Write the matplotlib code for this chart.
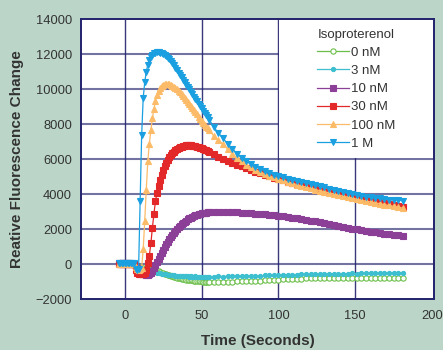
import numpy as np
import matplotlib
matplotlib.use("Agg")
import matplotlib.pyplot as plt
from matplotlib.patches import Rectangle

plt.rcParams['font.family'] = ['Liberation Sans', 'DejaVu Sans']

# Time points: 1 s reads up to 55 s, then 3 s reads
t_fast = np.arange(-4, 56)
t_slow = np.arange(58, 182, 3)
time = np.concatenate([t_fast, t_slow])

labels = ["0 nM", "3 nM", "10 nM", "30 nM", "100 nM", "1 M"]

# Readings (fluorescence change), fast part then slow part
nm0_fast = [20, 40, 30, 50, 30, 40, 30, 50, 40, 30, 20,
            -50, -100, -130,
            -160, -190, -220, -250, -270, -290, -310, -330, -340, -350,
            -360, -380, -410, -440, -470, -500, -530, -560, -590, -620,
            -650, -680, -700, -730, -760, -780, -800, -820, -840, -860,
            -870, -890, -900, -910, -920, -930, -940, -950, -960, -970,
            -980, -985, -990, -990, -995, -1000]
nm0_slow = [-1000, -990, -1000, -990, -990, -980, -980, -970, -960, -950,
            -940, -920, -910, -890, -870, -860, -850, -840, -830, -820,
            -810, -810, -800, -800, -800, -790, -790, -790, -790, -780,
            -780, -780, -780, -770, -770, -770, -770, -760, -760, -760,
            -760, -760]

nm3_fast = [30, 50, 30, 40, 50, 30, 40, 50, 30, 40, 30,
            -80, -150, -200,
            -250, -280, -300, -320, -340, -360, -380, -400, -420, -440,
            -460, -480, -500, -520, -540, -560, -570, -580, -600, -610,
            -620, -630, -640, -650, -650, -660, -670, -670, -680, -680,
            -690, -690, -700, -690, -700, -700, -690, -700, -710, -700,
            -700, -710, -700, -700, -710, -700]
nm3_slow = [-700, -690, -700, -680, -690, -670, -680, -660, -670, -650,
            -660, -640, -630, -620, -630, -600, -610, -590, -600, -580,
            -570, -580, -560, -570, -550, -560, -540, -550, -530, -540,
            -520, -530, -510, -520, -500, -510, -490, -500, -480, -490,
            -480, -490]

nm10_fast = [50, 30, 50, 40, 50, 30, 40, 50, 30, 40, 20,
             -100, -200, -250,
             -300, -350, -450, -550, -600, -600, -580, -500, -380, -230,
             -60, 120, 300, 480, 660, 830, 990, 1140, 1290, 1430,
             1560, 1680, 1800, 1910, 2010, 2110, 2200, 2280, 2360, 2430,
             2500, 2560, 2620, 2670, 2720, 2760, 2800, 2830, 2860, 2890,
             2910, 2930, 2940, 2950, 2960, 2970]
nm10_slow = [2980, 2990, 2990, 2990, 2980, 2970, 2950, 2930, 2910, 2890,
             2870, 2850, 2830, 2810, 2780, 2750, 2710, 2670, 2630, 2590,
             2550, 2500, 2450, 2400, 2350, 2290, 2230, 2170, 2120, 2070,
             2030, 1990, 1950, 1910, 1870, 1830, 1790, 1750, 1720, 1690,
             1660, 1640]

nm30_fast = [40, 20, 50, 30, 40, 20, 50, 30, 40, 20, 0,
             -300, -500, -550,
             -550, -580, -560, -520, -300, 100, 500, 1200, 2100, 2900,
             3600, 4100, 4450, 4800, 5100, 5380, 5600, 5800, 5970, 6110,
             6240, 6350, 6440, 6520, 6590, 6640, 6690, 6720, 6750, 6770,
             6790, 6800, 6800, 6790, 6780, 6760, 6740, 6710, 6680, 6650,
             6620, 6590, 6550, 6510, 6470, 6430]
nm30_slow = [6300, 6150, 6020, 5900, 5790, 5690, 5590, 5490, 5390, 5290,
             5200, 5110, 5020, 4940, 4860, 4790, 4730, 4670, 4610, 4560,
             4500, 4450, 4390, 4330, 4270, 4210, 4150, 4090, 4020, 3960,
             3900, 3840, 3780, 3730, 3680, 3630, 3580, 3520, 3460, 3400,
             3340, 3280]

nm100_fast = [30, 50, 40, 50, 30, 50, 40, 50, 30, 40, 20,
              -150, -250, -300,
              -280, -200, 850, 2500, 4250, 5900, 6900, 7660, 8350, 8900,
              9330, 9650, 9900, 10060, 10170, 10240, 10290, 10310, 10320, 10300,
              10260, 10210, 10150, 10080, 10000, 9910, 9820, 9720, 9620, 9510,
              9400, 9280, 9160, 9040, 8920, 8800, 8680, 8560, 8440, 8320,
              8200, 8090, 7980, 7870, 7760, 7650]
nm100_slow = [7330, 7080, 6850, 6580, 6320, 6080, 5880, 5700, 5540, 5400,
              5280, 5170, 5060, 4960, 4870, 4790, 4710, 4630, 4550, 4480,
              4410, 4340, 4270, 4200, 4140, 4080, 4020, 3960, 3900, 3840,
              3780, 3720, 3660, 3610, 3560, 3510, 3460, 3410, 3360, 3310,
              3260, 3210]

m1_fast = [80, 100, 90, 100, 90, 100, 90, 100, 80, 90, 50,
           -250, -300, -250,
           3600, 7400, 9500, 10400, 11000, 11400, 11650, 11850, 11980, 12050,
           12100, 12120, 12120, 12100, 12080, 12040, 11980, 11900, 11810, 11720,
           11620, 11500, 11370, 11230, 11090, 10950, 10820, 10680, 10540, 10400,
           10260, 10120, 9990, 9850, 9720, 9580, 9450, 9310, 9180, 9050,
           8920, 8780, 8650, 8520, 8390, 8260]
m1_slow = [7830, 7500, 7190, 6890, 6600, 6330, 6080, 5880, 5720, 5580,
           5460, 5340, 5230, 5130, 5040, 4960, 4890, 4820, 4760, 4700,
           4640, 4580, 4510, 4450, 4390, 4320, 4260, 4200, 4130, 4060,
           4000, 3940, 3900, 3860, 3830, 3800, 3760, 3730, 3700, 3680,
           3660, 3640]

series = [nm0_fast + nm0_slow, nm3_fast + nm3_slow, nm10_fast + nm10_slow,
          nm30_fast + nm30_slow, nm100_fast + nm100_slow, m1_fast + m1_slow]
colors = ["#6cbf4a", "#3dbfcf", "#8c3f97", "#e3282a", "#fcbb68", "#1a9fe0"]
markers = ["o", "o", "s", "s", "^", "v"]
msizes = [3.8, 3.0, 5.0, 5.0, 3.9, 3.9]

bg = "#bbd6c8"
navy = "#23236e"

fig = plt.figure(figsize=(4.43, 3.5), dpi=100, facecolor=bg)
ax = fig.add_axes([0.1828, 0.1449, 0.7969, 0.8])
ax.set_facecolor("white")

ax.set_xlim(-28.5, 201.3)
ax.set_ylim(-2000, 14000)

# grid: lighter horizontal lines, darker verticals
for y in range(0, 14000, 2000):
    ax.axhline(y, color="#5a5a92", lw=1.5, alpha=0.85, zorder=1)
for x in [0, 50, 100, 150]:
    ax.axvline(x, color=navy, lw=1.0, alpha=0.9, zorder=1)
# blank area behind the legend
ax.add_patch(Rectangle((100.6, 6000 + 60), 110, 9000, facecolor="white",
                       edgecolor="none", zorder=1.5))

for vals, lab, c, m, ms in zip(series, labels, colors, markers, msizes):
    face = "white" if lab == "0 nM" else c
    ax.plot(time, vals, color=c, lw=0.9, marker=m, ms=ms,
            markerfacecolor=face, markeredgecolor=c, markeredgewidth=0.8,
            label=lab, zorder=3)

ax.set_xticks([0, 50, 100, 150, 200])
ax.set_yticks(range(-2000, 14001, 2000))
ax.tick_params(length=0, labelsize=9.3, labelcolor="#333333")
ax.tick_params(axis="y", pad=6.5)
ax.tick_params(axis="x", pad=7.5)
for s in ax.spines.values():
    s.set_color(navy)
    s.set_linewidth(1.4)
    s.set_zorder(4)

ax.set_xlabel("Time (Seconds)", fontsize=11, fontweight="bold",
              color="#333333", labelpad=9)
ax.set_ylabel("Reative Fluorescence Change", fontsize=11, fontweight="bold",
              color="#333333", labelpad=8)

leg = ax.legend(title="Isoproterenol", loc="upper left",
                bbox_to_anchor=(0.65, 0.99), frameon=False, fontsize=9.5,
                title_fontsize=9.5, handlelength=2.4, handletextpad=0.2,
                labelspacing=0.45, borderpad=0.0)
for txt in leg.get_texts():
    txt.set_color("#333333")
leg.get_title().set_color("#333333")

fig.savefig("out.png", dpi=100, facecolor=bg)
